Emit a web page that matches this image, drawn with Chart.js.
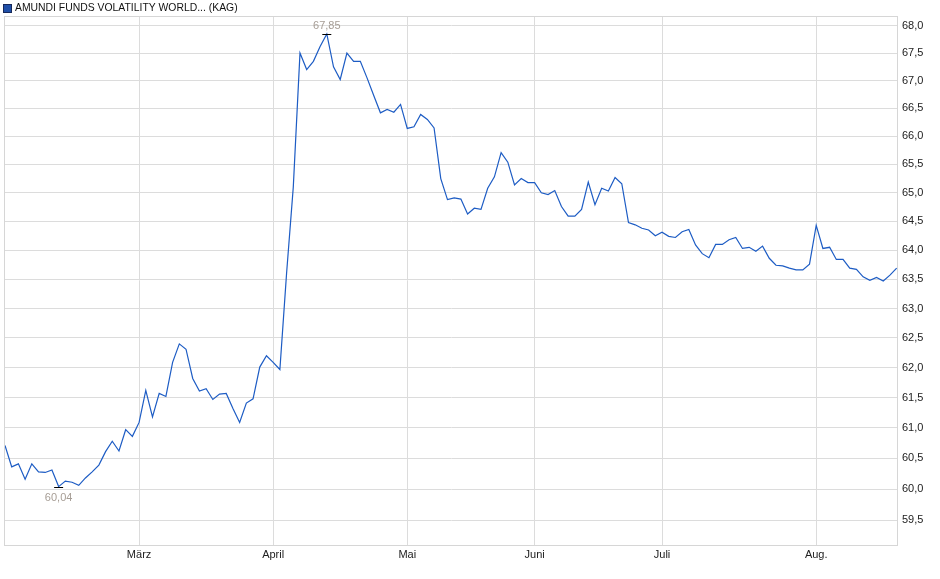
<!DOCTYPE html>
<html>
<head>
<meta charset="utf-8">
<script src="https://cdn.jsdelivr.net/npm/chart.js@4"></script>
<style>
  html, body { margin: 0; padding: 0; background: #fff; }
  #wrap { width: 940px; height: 579px; position: relative; }
</style>
</head>
<body>
<div id="wrap"><canvas id="chart"></canvas></div>
<script>
// series name shown in the legend
const seriesName = 'AMUNDI FUNDS VOLATILITY WORLD... (KAG)';

// daily prices, Feb to mid Aug (one value per trading day)
const febValues = [60.71, 60.36, 60.41, 60.16, 60.41, 60.28, 60.27, 60.31, 60.04, 60.13,
                   60.11, 60.06, 60.18, 60.28, 60.39, 60.61, 60.78, 60.62, 60.97, 60.86];
const marValues = [61.09, 61.62, 61.18, 61.57, 61.52, 62.09, 62.40, 62.31, 61.82, 61.61,
                   61.65, 61.47, 61.56, 61.57, 61.32, 61.09, 61.41, 61.48, 62.01, 62.20];
const aprValues = [62.09, 61.97, 63.60, 65.10, 67.50, 67.20, 67.35, 67.62, 67.85, 67.25,
                   67.02, 67.50, 67.35, 67.35, 67.05, 66.73, 66.42, 66.48, 66.43, 66.57];
const mayValues = [66.14, 66.17, 66.39, 66.30, 66.15, 65.25, 64.88, 64.91, 64.89, 64.63,
                   64.73, 64.71, 65.08, 65.28, 65.71, 65.54, 65.14, 65.25, 65.18];
const junValues = [65.18, 65.00, 64.97, 65.04, 64.76, 64.59, 64.59, 64.71, 65.19, 64.79,
                   65.08, 65.03, 65.27, 65.16, 64.48, 64.44, 64.38, 64.35, 64.25];
const julValues = [64.31, 64.24, 64.22, 64.32, 64.36, 64.09, 63.94, 63.87, 64.10, 64.10,
                   64.18, 64.22, 64.03, 64.05, 63.98, 64.07, 63.86, 63.74, 63.73, 63.69,
                   63.66, 63.66, 63.76];
const augValues = [64.43, 64.03, 64.05, 63.84, 63.84, 63.69, 63.67, 63.54, 63.48, 63.53,
                   63.47, 63.57, 63.69];

// x axis labels and the index of the first trading day of each month
const monthLabels = ['März', 'April', 'Mai', 'Juni', 'Juli', 'Aug.'];
const monthStarts = [20, 40, 60, 79, 98, 121];

// y axis tick values (log scale)
const yTicks = [59.5, 60.0, 60.5, 61.0, 61.5, 62.0, 62.5, 63.0, 63.5, 64.0,
                64.5, 65.0, 65.5, 66.0, 66.5, 67.0, 67.5, 68.0];

const values = [...febValues, ...marValues, ...aprValues, ...mayValues,
                ...junValues, ...julValues, ...augValues];
const points = values.map((v, i) => ({ x: i, y: v }));

const fmt = v => v.toFixed(2).replace('.', ',');
const FONT = '"Liberation Sans", Arial, sans-serif';

// draws frame, legend and the min / max markers
const decorations = {
  id: 'decorations',
  beforeDraw(chart) {
    const { ctx } = chart;
    ctx.save();
    ctx.fillStyle = '#fff';
    ctx.fillRect(0, 0, chart.width, chart.height);
    ctx.restore();
  },
  afterDraw(chart) {
    const { ctx, chartArea: a, scales } = chart;
    ctx.save();
    // frame
    ctx.strokeStyle = '#d6d6d6';
    ctx.lineWidth = 1;
    ctx.strokeRect(Math.round(a.left) - 0.5, Math.round(a.top) + 0.5,
                   Math.round(a.right - a.left), Math.round(a.bottom - a.top));

    // legend
    ctx.fillStyle = '#1f4fa8';
    ctx.fillRect(3.5, 4.5, 8, 8);
    ctx.strokeStyle = '#17295a';
    ctx.strokeRect(3.5, 4.5, 8, 8);
    ctx.fillStyle = '#111';
    ctx.font = '10.4px ' + FONT;
    ctx.textBaseline = 'middle';
    ctx.textAlign = 'left';
    ctx.fillText(seriesName, 15, 8.5);

    // min / max markers
    let iMax = 0, iMin = 0;
    values.forEach((v, i) => {
      if (v > values[iMax]) iMax = i;
      if (v < values[iMin]) iMin = i;
    });
    ctx.font = '11px ' + FONT;
    const mark = (i, above) => {
      const px = scales.x.getPixelForValue(i);
      const py = Math.round(scales.y.getPixelForValue(values[i])) + 0.5;
      ctx.strokeStyle = '#000';
      ctx.beginPath();
      ctx.moveTo(px - 4.5, py);
      ctx.lineTo(px + 4.5, py);
      ctx.stroke();
      ctx.fillStyle = '#a69d95';
      ctx.textAlign = 'center';
      ctx.textBaseline = 'middle';
      ctx.fillText(fmt(values[i]), px, above ? py - 9 : py + 10);
    };
    mark(iMax, true);
    mark(iMin, false);
    ctx.restore();
  }
};

const ctx = document.getElementById('chart').getContext('2d');
const chart = new Chart(ctx, {
  type: 'line',
  data: {
    datasets: [{
      label: seriesName,
      data: points,
      borderColor: '#1d5cc4',
      borderWidth: 1.2,
      pointRadius: 0,
      tension: 0,
      fill: false,
    }],
  },
  options: {
    responsive: true,
    maintainAspectRatio: false,
    animation: false,
    events: [],
    layout: { padding: { top: 16, left: 5, right: 0, bottom: 0 } },
    plugins: {
      legend: { display: false },
      tooltip: { enabled: false },
    },
    scales: {
      x: {
        type: 'linear',
        min: 0,
        max: 133.2,
        afterBuildTicks: s => { s.ticks = monthStarts.map(v => ({ value: v })); },
        afterFit: s => { s.height = 34; },
        grid: { color: '#dcdcdc', drawTicks: false },
        border: { display: false },
        ticks: {
          autoSkip: false,
          maxRotation: 0,
          padding: 3,
          color: '#222',
          font: { family: FONT, size: 11 },
          callback: v => monthLabels[monthStarts.indexOf(v)],
        },
      },
      y: {
        type: 'logarithmic',
        position: 'right',
        min: 59.1,
        max: 68.18,
        afterBuildTicks: s => { s.ticks = yTicks.map(v => ({ value: v })); },
        afterFit: s => { s.width = 42; },
        grid: { color: '#dcdcdc', drawTicks: false },
        border: { display: false },
        ticks: {
          padding: 4,
          color: '#222',
          font: { family: FONT, size: 11 },
          callback: v => v.toFixed(1).replace('.', ','),
        },
      },
    },
  },
  plugins: [decorations],
});
</script>
</body>
</html>
